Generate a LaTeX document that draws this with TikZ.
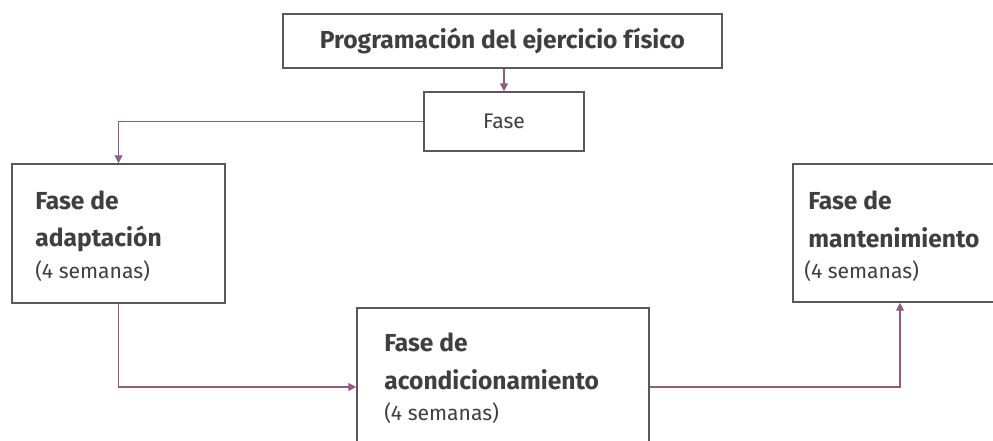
\documentclass[tikz,border=0pt]{standalone}
\usepackage{fontspec}
\setmainfont{Fira Sans}
\usetikzlibrary{arrows.meta}
\definecolor{borde}{HTML}{595959}
\definecolor{malva}{HTML}{8F5B80}
\definecolor{texto}{HTML}{3F3F3F}

\begin{document}
\begin{tikzpicture}[x=0.02cm, y=-0.02cm,
    caja/.style={draw=borde, line width=0.9pt, fill=white, inner sep=0pt, text=texto},
    flecha/.style={draw=malva, line width=0.7pt, -{Triangle[length=4.5pt, width=4.5pt]}},
    negrita/.style={font=\fontsize{14}{17}\selectfont\bfseries, text=texto, inner sep=0pt, anchor=base west},
    normal/.style={font=\fontsize{12}{14}\selectfont, text=texto, inner sep=0pt, anchor=base west}]
    \useasboundingbox (0, 0) rectangle (993, 440);
    \clip (0, 0) rectangle (993, 440);

    \node[caja, minimum width=8.78cm, minimum height=1.08cm, font=\fontsize{14}{17}\selectfont\bfseries] (titulo) at (502.5, 41) {Programación del ejercicio físico};
    \node[caja, minimum width=3.2cm, minimum height=1.18cm, font=\fontsize{12}{14}\selectfont] (fase) at (504, 121.5) {Fase};
    \node[caja, minimum width=4.26cm, minimum height=2.78cm] (adap) at (118.5, 233.5) {};
    \node[caja, minimum width=5.84cm, minimum height=3.16cm] (acond) at (503, 387) {};
    \node[caja, minimum width=4.28cm, minimum height=2.76cm] (mant) at (900, 233) {};

    \node[negrita] (adap1) at (35, 209) {Fase de};
    \node[negrita] (adap2) at (35, 246) {adaptación};
    \node[normal]  (adap3) at (35, 278) {(4 semanas)};

    \node[negrita] (acond1) at (384, 351) {Fase de};
    \node[negrita] (acond2) at (384, 389) {acondicionamiento};
    \node[normal]  (acond3) at (384, 420) {(4 semanas)};

    \node[negrita] (mant1) at (808, 209) {Fase de};
    \node[negrita] (mant2) at (808, 247) {mantenimiento};
    \node[normal]  (mant3) at (804, 278) {(4 semanas)};

    \draw[flecha] (titulo.south -| fase.north) -- (fase.north);
    \draw[flecha] (fase.west) -| (adap.north);
    \draw[flecha] (adap.south) |- (acond.west);
    \draw[flecha] (acond.east) -| (mant.south);
\end{tikzpicture}
\end{document}
